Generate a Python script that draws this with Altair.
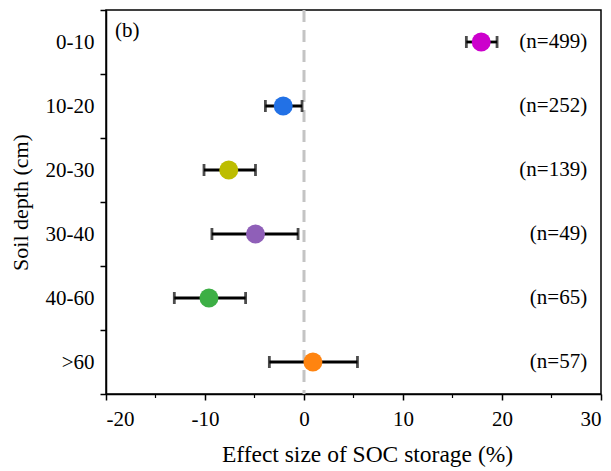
import altair as alt
import pandas as pd

depths = ["0-10", "10-20", "20-30", "30-40", "40-60", ">60"]
means = [17.9, -2.1, -7.6, -4.9, -9.6, 0.9]
lows = [16.4, -3.9, -10.1, -9.3, -13.1, -3.5]
highs = [19.5, -0.2, -4.9, -0.6, -5.9, 5.4]
ns = ["(n=499)", "(n=252)", "(n=139)", "(n=49)", "(n=65)", "(n=57)"]
colors = ["#CC00CC", "#2271E6", "#BDBD00", "#8F5FB8", "#3DAF45", "#FF8410"]
minor_ticks = [-15, -5, 5, 15, 25]

df = pd.DataFrame({"depth": depths, "mean": means, "low": lows, "high": highs, "n": ns})
minor_df = pd.DataFrame({"m": minor_ticks})

FONT = "Liberation Serif"
FS = 21

xscale = alt.Scale(domain=[-20, 30], nice=False, zero=False)
yscale = alt.Scale(domain=depths, paddingInner=0, paddingOuter=0)

xenc = alt.X("mean:Q", scale=xscale,
             axis=alt.Axis(values=[-20, -10, 0, 10, 20, 30], title="Effect size of SOC storage (%)",
                           labelExpr="'' + datum.value",
                           grid=False, tickSize=6, labelPadding=8, titlePadding=13, titleX=261,
                           labelFont=FONT, titleFont=FONT, labelFontSize=FS, titleFontSize=23.5))
yenc = alt.Y("depth:N", scale=yscale, sort=depths,
             axis=alt.Axis(title="Soil depth (cm)", grid=False, tickBand="extent", tickSize=6,
                           labelPadding=6, titlePadding=13,
                           labelFont=FONT, titleFont=FONT, labelFontSize=FS, titleFontSize=22))

base = alt.Chart(df)

zero_line = alt.Chart(pd.DataFrame({"z": [0]})).mark_rule(
    color="#C4C4C4", strokeWidth=3, strokeDash=[12, 8]
).encode(x=alt.X("z:Q", scale=xscale))

bars = base.mark_rule(color="black", strokeWidth=2.8).encode(
    x=alt.X("low:Q", scale=xscale), x2="high:Q", y=yenc)

cap_lo = base.mark_tick(color="black", thickness=2.8, size=12, orient="vertical").encode(
    x=alt.X("low:Q", scale=xscale), y=yenc)
cap_hi = base.mark_tick(color="black", thickness=2.8, size=12, orient="vertical").encode(
    x=alt.X("high:Q", scale=xscale), y=yenc)

points = base.mark_circle(size=360, opacity=1).encode(
    x=xenc, y=yenc,
    color=alt.Color("depth:N", scale=alt.Scale(domain=depths, range=colors), legend=None))

labels = base.mark_text(align="right", baseline="middle", font=FONT, fontSize=FS, color="black").encode(
    x=alt.X("nx:Q", scale=xscale),
    y=yenc, text="n:N").transform_calculate(nx="28.6")

minor = alt.Chart(minor_df).mark_rule(color="black", strokeWidth=1.2).encode(
    x=alt.X("m:Q", scale=xscale), y=alt.value(384), y2=alt.value(388))

panel = alt.Chart(pd.DataFrame({"t": ["(b)"]})).mark_text(
    align="left", baseline="middle", font=FONT, fontSize=FS, color="black"
).encode(x=alt.value(9), y=alt.value(21), text="t:N")

chart = alt.layer(zero_line, bars, cap_lo, cap_hi, points, labels, minor, panel).properties(
    width=495, height=384,
    autosize=alt.AutoSizeParams(type="none"),
    padding={"left": 98, "top": 2, "right": 2, "bottom": 76},
).configure(font=FONT).configure_view(stroke="black", strokeWidth=1.5).configure_axis(
    labelColor="black", titleColor="black", titleFontWeight="normal",
    domainColor="black", tickColor="black", domainWidth=1.5, tickWidth=1.5
)

chart.save("out.html", embed_options={"renderer": "svg", "actions": False})
